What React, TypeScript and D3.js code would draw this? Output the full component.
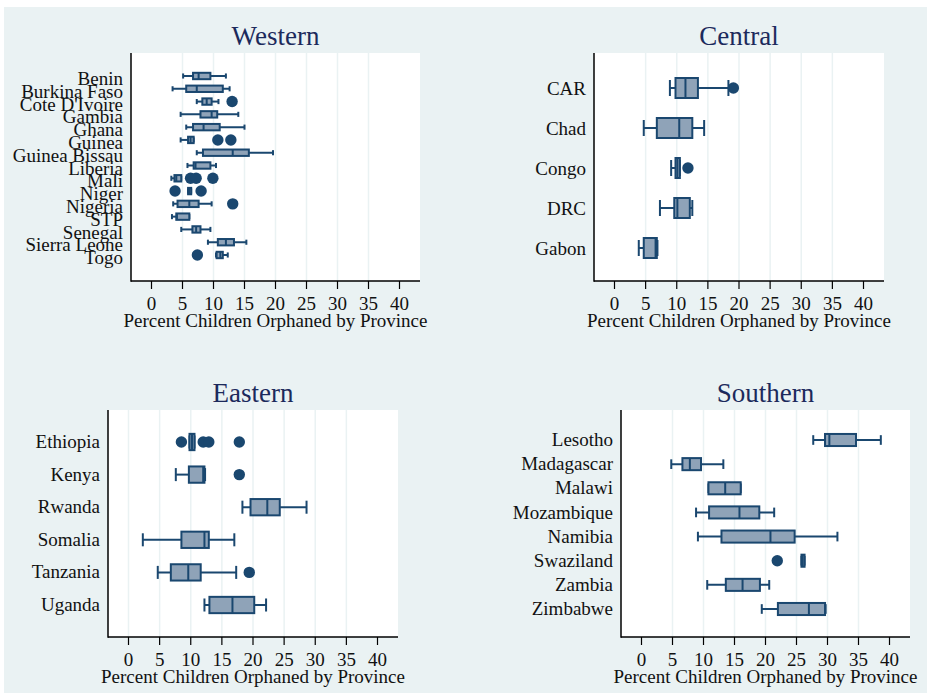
import React from 'react';
import * as d3 from 'd3';

// [lower whisker, q1, median, q3, upper whisker]
type Stat = [number, number, number, number, number];

const westernNames = [
  'Benin', 'Burkina Faso', "Cote D'Ivoire", 'Gambia', 'Ghana', 'Guinea', 'Guinea Bissau',
  'Liberia', 'Mali', 'Niger', 'Nigeria', 'STP', 'Senegal', 'Sierra Leone', 'Togo',
];
const westernStats: Stat[] = [
  [5.1, 6.7, 7.6, 9.5, 12.0],
  [3.4, 5.6, 7.3, 11.5, 12.6],
  [7.3, 8.2, 8.9, 9.7, 10.8],
  [4.7, 7.9, 9.7, 10.6, 14.0],
  [5.6, 6.7, 8.4, 11.0, 15.0],
  [4.7, 5.9, 6.3, 6.8, 6.8],
  [7.3, 8.3, 13.1, 15.7, 19.6],
  [5.8, 6.8, 7.1, 9.5, 10.4],
  [3.2, 3.7, 4.0, 4.8, 4.8],
  [5.9, 5.9, 6.1, 6.4, 6.4],
  [3.5, 4.2, 6.1, 7.6, 9.7],
  [3.3, 4.0, 4.1, 6.1, 6.1],
  [4.8, 6.6, 7.2, 7.9, 9.5],
  [9.1, 10.7, 12.0, 13.3, 15.3],
  [10.4, 10.5, 11.1, 11.5, 12.3],
];
const westernOutliers: [string, number][] = [
  ["Cote D'Ivoire", 13.0], ['Guinea', 10.7], ['Guinea', 12.8],
  ['Mali', 6.3], ['Mali', 7.2], ['Mali', 9.9],
  ['Niger', 3.8], ['Niger', 8.0], ['Nigeria', 13.1], ['Togo', 7.4],
];

const centralNames = ['CAR', 'Chad', 'Congo', 'DRC', 'Gabon'];
const centralStats: Stat[] = [
  [8.9, 9.8, 11.4, 13.4, 18.3],
  [4.7, 6.8, 10.4, 12.5, 14.4],
  [9.1, 9.8, 10.1, 10.5, 10.5],
  [7.3, 9.6, 10.1, 12.1, 12.5],
  [3.9, 4.7, 6.6, 6.8, 6.9],
];
const centralOutliers: [string, number][] = [['CAR', 19.1], ['Congo', 11.8]];

const easternNames = ['Ethiopia', 'Kenya', 'Rwanda', 'Somalia', 'Tanzania', 'Uganda'];
const easternStats: Stat[] = [
  [9.8, 9.8, 10.2, 10.6, 10.6],
  [7.6, 9.7, 12.0, 12.2, 12.3],
  [18.3, 19.6, 22.3, 24.3, 28.6],
  [2.3, 8.5, 12.2, 12.9, 17.0],
  [4.7, 6.8, 9.6, 11.6, 17.3],
  [12.2, 13.0, 16.7, 20.2, 22.1],
];
const easternOutliers: [string, number][] = [
  ['Ethiopia', 8.5], ['Ethiopia', 12.0], ['Ethiopia', 12.9], ['Ethiopia', 17.8],
  ['Kenya', 17.8], ['Tanzania', 19.4],
];

const southernNames = [
  'Lesotho', 'Madagascar', 'Malawi', 'Mozambique', 'Namibia', 'Swaziland', 'Zambia', 'Zimbabwe',
];
const southernStats: Stat[] = [
  [27.7, 29.6, 30.3, 34.6, 38.6],
  [4.8, 6.6, 7.8, 9.6, 13.2],
  [10.8, 10.8, 13.5, 16.0, 16.0],
  [8.8, 10.9, 15.8, 19.0, 21.4],
  [9.1, 12.9, 20.8, 24.7, 31.6],
  [25.8, 25.8, 26.0, 26.3, 26.3],
  [10.6, 13.6, 16.3, 19.1, 20.6],
  [19.4, 22.0, 27.0, 29.6, 29.7],
];
const southernOutliers: [string, number][] = [['Swaziland', 21.9]];

const xTicks = [0, 5, 10, 15, 20, 25, 30, 35, 40];
const xTitle = 'Percent Children Orphaned by Province';

interface PanelSpec {
  title: string;
  names: string[];
  stats: Stat[];
  outliers: [string, number][];
  x0: number; x1: number; y0: number; y1: number;
  padT: number; padB: number; zeroGrid: boolean; labelShift: number;
}

const panels: PanelSpec[] = [
  { title: 'Western', names: westernNames, stats: westernStats, outliers: westernOutliers,
    x0: 131, x1: 420, y0: 53, y1: 281, padT: 23, padB: 26, zeroGrid: false, labelShift: 3 },
  { title: 'Central', names: centralNames, stats: centralStats, outliers: centralOutliers,
    x0: 594, x1: 884, y0: 53, y1: 281, padT: 35, padB: 33, zeroGrid: false, labelShift: 0.5 },
  { title: 'Eastern', names: easternNames, stats: easternStats, outliers: easternOutliers,
    x0: 108, x1: 398, y0: 410, y1: 637, padT: 32, padB: 32, zeroGrid: true, labelShift: 0 },
  { title: 'Southern', names: southernNames, stats: southernStats, outliers: southernOutliers,
    x0: 621, x1: 910, y0: 410, y1: 637, padT: 30, padB: 28, zeroGrid: false, labelShift: 0 },
];

const BG = '#eaf2f3';
const NAVY = '#1a476f';
const FILL = '#8fa3b8';
const FONT = '"Liberation Serif", "Times New Roman", serif';
const labelStyle: React.CSSProperties = { fontFamily: FONT, fontSize: '19px' };

const Panel: React.FC<{ p: PanelSpec }> = ({ p }) => {
  const x = d3.scaleLinear().domain([0, 40]).range([p.x0 + 20.5, p.x1 - 20.5]);
  const y = d3.scalePoint<string>().domain(p.names).range([p.y0 + p.padT, p.y1 - p.padB]);
  const boxH = y.step() * 0.5;
  const capH = boxH * 0.8;
  const grid = xTicks.filter((t) => (t > 0 && t < 40) || (t === 0 && p.zeroGrid));
  const cx = (p.x0 + p.x1) / 2;

  return (
    <g>
      <rect x={p.x0} y={p.y0} width={p.x1 - p.x0} height={p.y1 - p.y0} fill="#fff" />
      {grid.map((t) => (
        <line key={t} x1={x(t)} x2={x(t)} y1={p.y0} y2={p.y1} stroke={BG} strokeWidth={1.5} />
      ))}

      {/* boxes */}
      {p.names.map((n, i) => {
        const [lo, q1, med, q3, hi] = p.stats[i];
        const cy = y(n)!;
        return (
          <g key={n} transform={`translate(0,${cy})`} stroke={NAVY} strokeWidth={2}>
            <line x1={x(lo)} x2={x(hi)} y1={0} y2={0} />
            <line x1={x(lo)} x2={x(lo)} y1={-capH / 2} y2={capH / 2} />
            <line x1={x(hi)} x2={x(hi)} y1={-capH / 2} y2={capH / 2} />
            <rect x={x(q1)} y={-boxH / 2} width={Math.max(1, x(q3) - x(q1))} height={boxH} fill={FILL} />
            <line x1={x(med)} x2={x(med)} y1={-boxH / 2} y2={boxH / 2} />
          </g>
        );
      })}
      {p.outliers.map(([n, v], i) => (
        <circle key={i} cx={x(v)} cy={y(n)!} r={5.7} fill={NAVY} />
      ))}

      {/* axes */}
      <line x1={p.x0} x2={p.x0} y1={p.y0} y2={p.y1 + 0.75} stroke="#000" strokeWidth={1.5} />
      <line x1={p.x0} x2={p.x1} y1={p.y1} y2={p.y1} stroke="#000" strokeWidth={1.5} />
      {xTicks.map((t) => (
        <g key={t} transform={`translate(${x(t)},${p.y1})`}>
          <line y1={0} y2={8} stroke="#000" strokeWidth={1.2} />
          <text y={29} textAnchor="middle" fill="#111" style={labelStyle}>{t}</text>
        </g>
      ))}
      {p.names.map((n) => (
        <text key={n} x={p.x0 - 8} y={y(n)! + p.labelShift} dy="0.32em" textAnchor="end" fill="#111" style={labelStyle}>
          {n}
        </text>
      ))}
      <text x={cx} y={p.y1 + 46} textAnchor="middle" fill="#111" style={labelStyle}>{xTitle}</text>
      <text x={cx} y={p.y0 - 8} textAnchor="middle" fill="#1c2a5c" style={{ fontFamily: FONT, fontSize: '27px' }}>
        {p.title}
      </text>
    </g>
  );
};

const App: React.FC = () => (
  <svg width={927} height={693} style={{ position: 'absolute', left: 0, top: 0, background: '#fff' }}>
    <rect x={4} y={7} width={923} height={686} fill={BG} />
    {panels.map((p) => (
      <Panel key={p.title} p={p} />
    ))}
  </svg>
);

export default App;
